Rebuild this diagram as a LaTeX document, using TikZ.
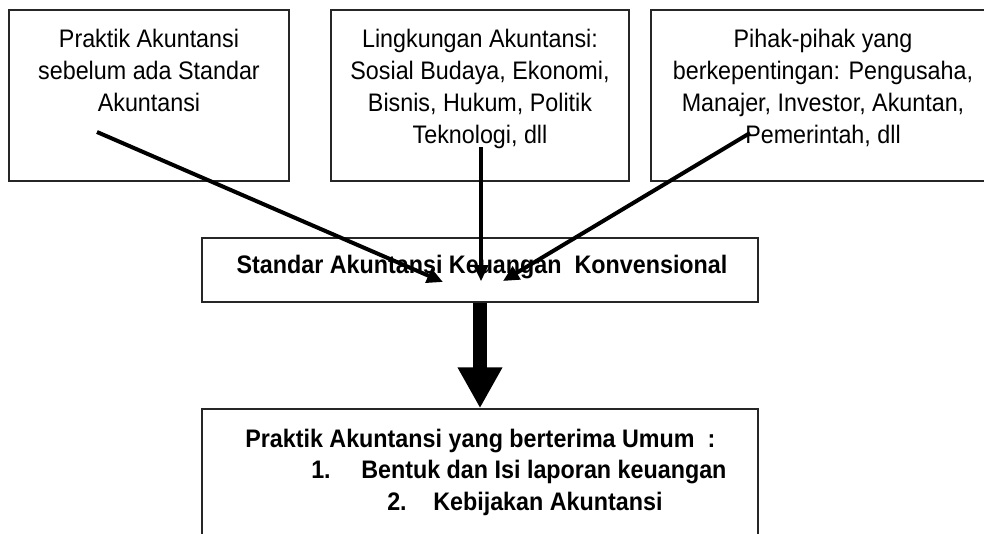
\documentclass[tikz,border=0pt]{standalone}
\usepackage{fontspec}
\setmainfont[FakeStretch=0.92]{Liberation Sans}
\usetikzlibrary{arrows.meta,fit}
\begin{document}
\begin{tikzpicture}[x=0.75pt,y=-0.75pt,
  box/.style={draw=black!85, line width=1.1pt, inner sep=0pt},
  txt/.style={font=\fontsize{19pt}{24pt}\selectfont, align=center, inner sep=0pt},
  btxt/.style={font=\bfseries\fontsize{19pt}{24pt}\selectfont, inner sep=0pt},
  thinarrow/.style={line width=3pt, -{Triangle[length=12pt,width=11pt]}},
  midarrow/.style={line width=2.3pt, -{Triangle[length=12pt,width=11pt]}},
  bigarrow/.style={line width=10.5pt, -{Triangle[length=30.75pt,width=31.5pt]}}]
\useasboundingbox (0,0) rectangle (984,533);
\clip (0,0) rectangle (984,533);
\fill[white] (0,0) rectangle (984,533);
% boxes
\node[box, fit={(9,10) (289,181)}] (b1) {};
\node[box, fit={(331,10) (629,181)}] (b2) {};
\node[box, fit={(651,10) (995,181)}] (b3) {};
\node[box, fit={(202,238) (758,302)}] (mid) {};
\node[box, fit={(202,409) (758,560)}] (bot) {};
% texts
\node[txt, anchor=north] (t1) at (149,29) {Praktik Akuntansi\\sebelum ada Standar\\Akuntansi};
\node[txt, anchor=north] (t2) at (480,29) {Lingkungan Akuntansi:\\Sosial Budaya, Ekonomi,\\Bisnis, Hukum, Politik\\Teknologi, dll};
\node[txt, anchor=north] (t3) at (823,29) {Pihak-pihak yang\\berkepentingan: Pengusaha,\\Manajer, Investor, Akuntan,\\Pemerintah, dll};
\node[btxt, anchor=base] (tm) at (482,273) {Standar Akuntansi Keuangan\ \ Konvensional};
\node[btxt, anchor=base west] (l1) at (245,447) {Praktik Akuntansi yang berterima Umum\ \ :};
\node[btxt, anchor=base west] (n1) at (311,478) {1.};
\node[btxt, anchor=base west] (l2) at (361,478) {Bentuk dan Isi laporan keuangan};
\node[btxt, anchor=base west] (n2) at (387,510) {2.};
\node[btxt, anchor=base west] (l3) at (433,510) {Kebijakan Akuntansi};
% connectors
\coordinate (s1) at (97,132);
\coordinate (e1) at (443,282);
\coordinate (s2) at (481,147);
\coordinate (e2) at (481,281);
\coordinate (s3) at (750,133);
\coordinate (e3) at (503,281);
\draw[thinarrow] (s1) -- (e1);
\draw[midarrow] (s2) -- (e2);
\draw[thinarrow] (s3) -- (e3);
\draw[bigarrow] (mid.south) -- (bot.north);
\end{tikzpicture}
\end{document}
